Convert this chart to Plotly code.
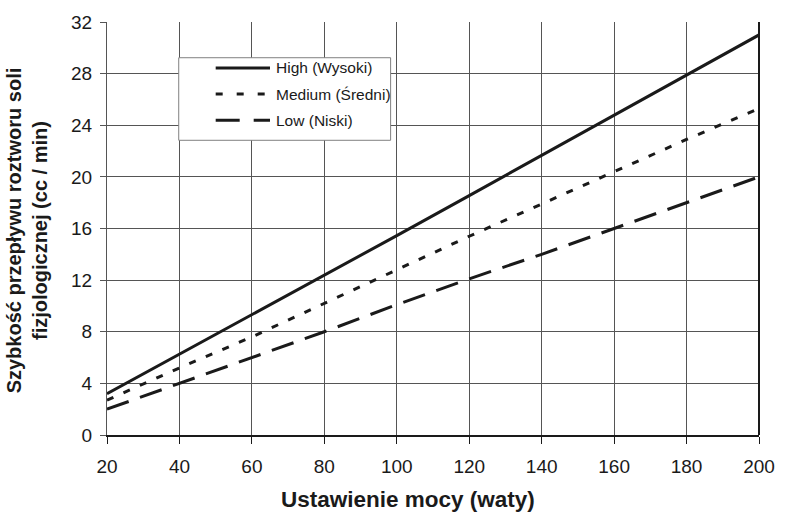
import plotly.graph_objects as go

power = [20, 40, 60, 80, 100, 120, 140, 160, 180, 200]
high = [3.2, 6.25, 9.3, 12.35, 15.45, 18.55, 21.65, 24.75, 27.85, 31.0]
medium = [2.7, 5.2, 7.6, 10.2, 12.8, 15.4, 17.9, 20.4, 22.9, 25.3]
low = [2.0, 4.0, 6.0, 8.0, 10.1, 12.1, 14.0, 16.0, 18.0, 20.0]

names = ["High (Wysoki)", "Medium (Średni)", "Low (Niski)"]
x_ticks = [20, 40, 60, 80, 100, 120, 140, 160, 180, 200]
y_ticks = [0, 4, 8, 12, 16, 20, 24, 28, 32]
x_title = "Ustawienie mocy (waty)"
y_title = "Szybkość przepływu roztworu soli<br>fizjologicznej (cc / min)"

FONT = "Liberation Sans, Arial, sans-serif"
INK = "#1a1a1a"
dashes = ["solid", "7px,11px", "23px,12px"]
legend_dashes = ["solid", "7px,14px", "24px,14px"]

fig = go.Figure()
for name, vals, dash in zip(names, [high, medium, low], dashes):
    fig.add_trace(go.Scatter(x=power, y=vals, name=name, mode="lines",
                             line=dict(color=INK, width=3, dash=dash)))

# Legend drawn as a boxed key (paper coordinates)
shapes = [
    dict(type="rect", xref="paper", yref="paper", x0=0.110, x1=0.435, y0=0.7136, y1=0.9135,
         line=dict(color="#808080", width=1), fillcolor="white", layer="above"),
    dict(type="line", xref="paper", yref="paper", x0=1, x1=1, y0=0, y1=1,
         line=dict(color=INK, width=2)),
]
annotations = []
rows = [0.8888, 0.8254, 0.7620]
for name, dash, yy in zip(names, legend_dashes, rows):
    shapes.append(dict(type="line", xref="paper", yref="paper", x0=0.1667, x1=0.250, y0=yy, y1=yy,
                       line=dict(color=INK, width=3, dash=dash), layer="above"))
    annotations.append(dict(text=name, xref="paper", yref="paper", x=0.256, y=yy,
                            xanchor="left", yanchor="middle", showarrow=False,
                            font=dict(family=FONT, size=15.5, color=INK)))

annotations.append(dict(text="<b>" + x_title + "</b>", xref="paper", yref="paper",
                        x=0.462, y=-0.155, xanchor="center", yanchor="middle", showarrow=False,
                        font=dict(family=FONT, size=22.5, color=INK)))
annotations.append(dict(text="<b>" + y_title + "</b>", xref="paper", yref="paper",
                        x=-0.123, y=0.495, xanchor="center", yanchor="middle", showarrow=False,
                        textangle=-90, align="center",
                        font=dict(family=FONT, size=20, color=INK)))

fig.update_layout(
    width=787, height=527,
    margin=dict(l=107, r=20, t=17, b=92),
    paper_bgcolor="white", plot_bgcolor="white",
    font=dict(family=FONT, size=19, color=INK),
    showlegend=False,
    xaxis=dict(range=[20, 200], tickvals=x_ticks, showgrid=True,
               gridcolor="#555555", gridwidth=1,
               showline=True, linecolor=INK, linewidth=2,
               ticks="outside", ticklen=7, tickcolor=INK,
               zeroline=False, ticklabelstandoff=6,
               tickfont=dict(size=19)),
    yaxis=dict(range=[0, 32], tickvals=y_ticks, showgrid=True,
               gridcolor="#555555", gridwidth=1,
               showline=True, linecolor="#555555", linewidth=1,
               ticks="outside", ticklen=6, tickcolor="#555555",
               zeroline=False, ticklabelstandoff=4,
               tickfont=dict(size=19)),
    shapes=shapes,
    annotations=annotations,
)

fig.write_html("out.html", config={"displayModeBar": False},
               post_script="document.body.style.margin='0';document.body.style.overflow='hidden';")
